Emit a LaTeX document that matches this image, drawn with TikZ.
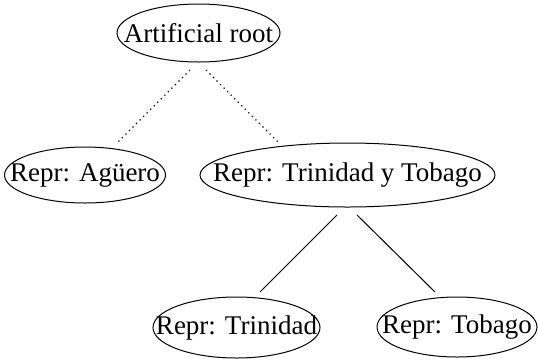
\documentclass[tikz,border=0pt]{standalone}
\usepackage{fontspec}
\setmainfont{Liberation Serif}
\usetikzlibrary{shapes.geometric,calc}
\tikzset{
  treenode/.style={draw=black, line width=1pt, ellipse, inner sep=0pt, font=\fontsize{27}{30}\selectfont},
  dottededge/.style={line width=1.2pt, dash pattern=on 1.2pt off 3.8pt},
  solidedge/.style={line width=1pt}
}
\newcommand{\zw}[1]{\makebox[0pt]{#1}}
\begin{document}
\begin{tikzpicture}[x=1pt,y=-1pt]
\useasboundingbox[fill=white] (0,0) rectangle (538,360);
\node[treenode, minimum width=163, minimum height=58] (root) at (198.5,33) {\zw{Artificial root}};
\node[treenode, minimum width=161, minimum height=56] (ag) at (85,175) {\zw{Repr: Agüero}};
\node[treenode, minimum width=295, minimum height=64] (tt) at (347.5,175) {\zw{Repr: Trinidad y Tobago}};
\node[treenode, minimum width=167, minimum height=61] (tr) at (236.5,327.5) {\zw{Repr: Trinidad}};
\node[treenode, minimum width=160, minimum height=60] (to) at (457,327) {\zw{Repr: Tobago}};
\draw[dottededge] ($(root.center)+(-8.5,37)$) -- ($(ag.center)+(33,-33)$);
\draw[dottededge] ($(root.center)+(7.5,37)$) -- ($(tt.center)+(-69.5,-33)$);
\draw[solidedge] ($(tt.center)+(-10.5,40)$) -- ($(tr.center)+(23.5,-35.5)$);
\draw[solidedge] ($(tt.center)+(9.5,40)$) -- ($(to.center)+(-22,-35)$);
\end{tikzpicture}
\end{document}
